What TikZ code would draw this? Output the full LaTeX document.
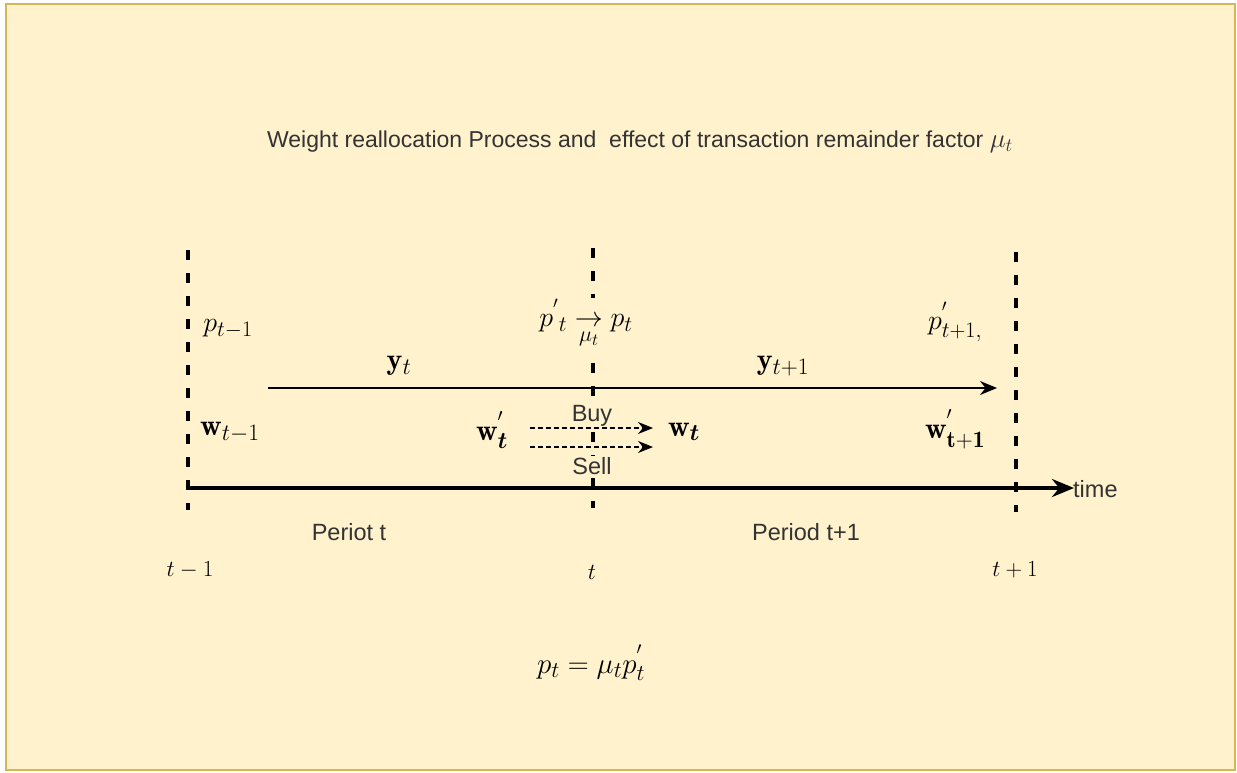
\RequirePackage{fix-cm}
\documentclass[tikz,border=0pt]{standalone}
\usepackage{amsmath}
\usepackage{fontspec}
\setsansfont{Liberation Sans}
\usetikzlibrary{arrows.meta}
\DeclareMathSizes{30}{30}{23.5}{18}
\DeclareMathSizes{28}{28}{22}{17}
\DeclareMathSizes{29}{29}{22.5}{17.5}
\definecolor{bgfill}{HTML}{FFF2CC}
\definecolor{bgdraw}{HTML}{D6B656}
\definecolor{txt}{HTML}{333333}
\tikzset{
  frame/.style={draw=bgdraw, fill=bgfill, line width=2pt},
  vline/.style={line width=3.5pt, dash pattern=on 10pt off 13pt},
  mainarrow/.style={line width=1.6pt, -{Stealth[length=17pt,width=14pt]}},
  timearrow/.style={line width=3.5pt, -{Stealth[length=22pt,width=18pt]}},
  tradearrow/.style={line width=1.2pt, dash pattern=on 5pt off 3pt, -{Stealth[length=15pt,width=12pt]}},
  mlabel/.style={inner sep=0pt, font=\fontsize{30}{34}\selectfont},
  plabel/.style={inner sep=0pt, font=\fontsize{28}{32}\selectfont},
  elabel/.style={inner sep=0pt, font=\fontsize{29}{33}\selectfont},
  klabel/.style={inner sep=0pt, font=\fontsize{23}{28}\selectfont},
  slabel/.style={inner sep=0pt, text=txt, font=\sffamily\fontsize{23.5}{27}\selectfont},
  tlabel/.style={inner sep=0pt, text=txt, font=\sffamily\fontsize{23}{27}\selectfont},
  hide/.style={fill=bgfill, inner sep=1pt},
}
\begin{document}
\begin{tikzpicture}[x=1pt,y=-1pt]
\useasboundingbox (0,0) rectangle (1237,772);
\path[frame] (6,4) rectangle (1235,770);
% title
\node[tlabel] (title) at (640,142) {Weight reallocation Process and\ \ effect of transaction remainder factor \fontsize{27}{30}\selectfont$\mu_t$};
% vertical dashed lines
\coordinate (l1t) at (188,250); \coordinate (l1b) at (188,510);
\coordinate (l2t) at (593,248); \coordinate (l2b) at (593,508);
\coordinate (l3t) at (1016,252); \coordinate (l3b) at (1016,512);
\draw[vline] (l1t) -- (l1b);
\draw[vline] (l2t) -- (l2b);
\draw[vline] (l3t) -- (l3b);
% main arrows
\coordinate (ys) at (268,388); \coordinate (ye) at (997,388);
\draw[mainarrow] (ys) -- (ye);
\coordinate (ts) at (188,488); \coordinate (te) at (1074,488);
\draw[timearrow] (ts) -- (te);
\node[slabel, anchor=west] (time) at (1073,489) {time};
% buy / sell
\node[slabel, hide] (buy) at (592,416) {Buy};
\node[slabel, hide] (sell) at (592,466) {Sell};
\coordinate (bs) at (530,428); \coordinate (be) at (653,428);
\coordinate (ss) at (530,447); \coordinate (se) at (653,447);
\draw[tradearrow] (bs) -- (be);
\draw[tradearrow] (ss) -- (se);
% math labels
\node[plabel] (pprev) at (228,329) {$p_{t-1}$};
\node[mlabel] (wprev) at (230,432) {$\mathbf{w}_{t-1}$};
\node[mlabel] (yt) at (399,366) {$\mathbf{y}_t$};
\node[mlabel] (ytn) at (783,366) {$\mathbf{y}_{t+1}$};
\node[plabel, hide] (pmid) at (586,324) {$p^{'}{}_{t}\underset{\mu_t}{\rightarrow} p_t$};
\node[mlabel] (wpt) at (492,430) {$\mathbf{w}^{'}_{\boldsymbol{t}}$};
\node[mlabel] (wt) at (684,432) {$\mathbf{w}_{\boldsymbol{t}}$};
\node[plabel] (pnext) at (955,322) {$p^{'}_{t+1,}$};
\node[mlabel] (wnext) at (955,429) {$\mathbf{w}^{'}_{\mathbf{t+1}}$};
% period labels
\node[slabel] (per1) at (349,532) {Periot t};
\node[slabel] (per2) at (806,532) {Period t+1};
% time ticks
\node[klabel] (tm1) at (190,570) {$t-1$};
\node[klabel] (t0) at (592,572) {$t$};
\node[klabel] (tp1) at (1015,570) {$t+1$};
% formula
\node[elabel] (eq) at (591,663) {$p_t = \mu_t p^{'}_t$};
\end{tikzpicture}
\end{document}
